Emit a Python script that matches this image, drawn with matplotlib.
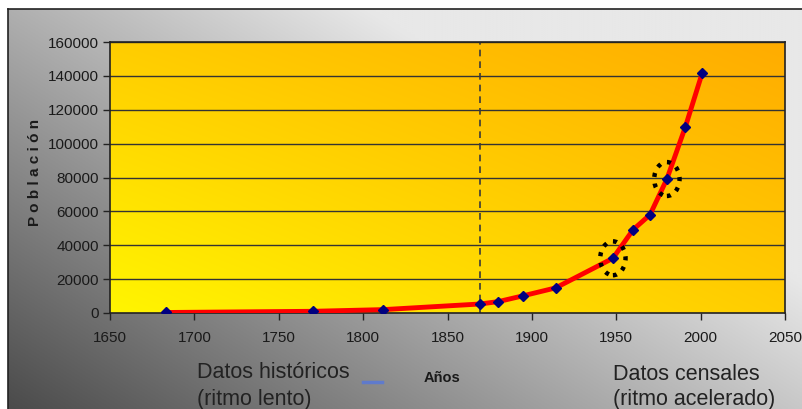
import numpy as np
import matplotlib.pyplot as plt
from matplotlib.patches import Ellipse
from matplotlib.lines import Line2D

plt.rcParams['font.family'] = ['Liberation Sans', 'DejaVu Sans']

# population by year
years = [1683, 1770, 1812, 1869, 1880, 1895, 1914, 1948, 1960, 1970, 1980, 1991, 2001]
poblacion = [300, 1000, 2000, 5300, 6700, 10200, 14800, 32300, 49200, 58000, 79100, 110000, 141900]
highlight_years = [1948, 1980]
highlight_pob = [32300, 79100]
corte = 1869

xticks = [1650, 1700, 1750, 1800, 1850, 1900, 1950, 2000, 2050]
yticks = [0, 20000, 40000, 60000, 80000, 100000, 120000, 140000, 160000]

W, H = 803, 409
fig = plt.figure(figsize=(W / 100, H / 100), dpi=100)
fig.patch.set_facecolor('white')

# grey gradient panel behind everything
bg = fig.add_axes([8 / W, 0, 1 - 8 / W, 1 - 9 / H], zorder=-2)
gx, gy = np.meshgrid(np.linspace(0, 1, 200), np.linspace(0, 1, 200))
grey = np.clip(75 + 125 * gx + 100 * gy, 0, 232) / 255.0
bg.imshow(np.dstack([grey, grey, grey]), origin='lower', extent=[0, 1, 0, 1],
          aspect='auto', interpolation='bilinear')
bg.set_xlim(0, 1)
bg.set_ylim(0, 1)
bg.set_xticks([])
bg.set_yticks([])
for s in ['right', 'bottom']:
    bg.spines[s].set_visible(False)
for s in ['top', 'left']:
    bg.spines[s].set_color('#222222')
    bg.spines[s].set_linewidth(1.2)

# small leftover legend dash
fig.add_artist(Line2D([363 / W, 382 / W], [1 - 382 / H, 1 - 382 / H],
                      color='#5577dd', lw=2.5, alpha=0.8))

left, right = 110 / W, 785 / W
bottom, top = 1 - 313 / H, 1 - 42 / H
ax = fig.add_axes([left, bottom, right - left, top - bottom])
ax.set_xlim(1650, 2050)
ax.set_ylim(0, 160000)

# yellow-orange gradient inside the plot area
cx, cy = np.meshgrid(np.linspace(0, 1, 200), np.linspace(0, 1, 200))
tl, tr, bl, br = 205, 172, 245, 205
g = (bl * (1 - cx) * (1 - cy) + br * cx * (1 - cy) + tl * (1 - cx) * cy + tr * cx * cy) / 255.0
rgb = np.dstack([np.ones_like(g), g, np.zeros_like(g)])
ax.imshow(rgb, origin='lower', extent=[1650, 2050, 0, 160000], aspect='auto',
          interpolation='bilinear', zorder=0)

for yv in yticks[1:]:
    ax.axhline(yv, color='#333333', lw=1.0, zorder=1)

ax.axvline(corte, color='#3a3a3a', lw=1.2, ls=(0, (4, 3)), zorder=2)

ax.plot(years, poblacion, color='#ff0000', lw=3.5, zorder=3, solid_capstyle='round')
ax.plot(years, poblacion, ls='none', marker='D', ms=5.5, color='#000080', zorder=4)

# dotted rings around the two highlighted census points
for hx, hy in zip(highlight_years, highlight_pob):
    e = Ellipse((hx, hy), 15, 20000, fill=False, ec='black', lw=3.2,
                ls=(0, (0.9, 1.5)), zorder=5)
    e.set_capstyle('butt')
    ax.add_patch(e)

ax.set_xticks(xticks)
ax.set_yticks(yticks)
ax.set_xticklabels([str(v) for v in xticks], fontsize=11, color='#1a1a1a')
ax.set_yticklabels([str(v) for v in yticks], fontsize=11, color='#1a1a1a')
ax.tick_params(axis='x', direction='out', length=5, width=1, pad=8, color='#222222')
ax.tick_params(axis='y', direction='out', length=5, width=1, pad=3, color='#222222')
for s in ax.spines.values():
    s.set_color('#222222')
    s.set_linewidth(1.2)

fig.text(35 / W, 1 - 172 / H, 'P o b l a c i ó n', rotation=90, fontsize=11,
         fontweight='bold', color='#1a1a1a', ha='center', va='center')
fig.text(442 / W, 1 - 378 / H, 'Años', fontsize=10.5, fontweight='bold',
         color='#1a1a1a', ha='center', va='center')
fig.text(197 / W, 1 - 372 / H, 'Datos históricos', fontsize=15.5,
         color='#222222', ha='left', va='center')
fig.text(197 / W, 1 - 400 / H, '(ritmo lento)', fontsize=15.5,
         color='#222222', ha='left', va='center')
fig.text(613 / W, 1 - 374 / H, 'Datos censales', fontsize=15.5,
         color='#222222', ha='left', va='center')
fig.text(613 / W, 1 - 400 / H, '(ritmo acelerado)', fontsize=15.5,
         color='#222222', ha='left', va='center')

fig.savefig('out.png', dpi=100)
